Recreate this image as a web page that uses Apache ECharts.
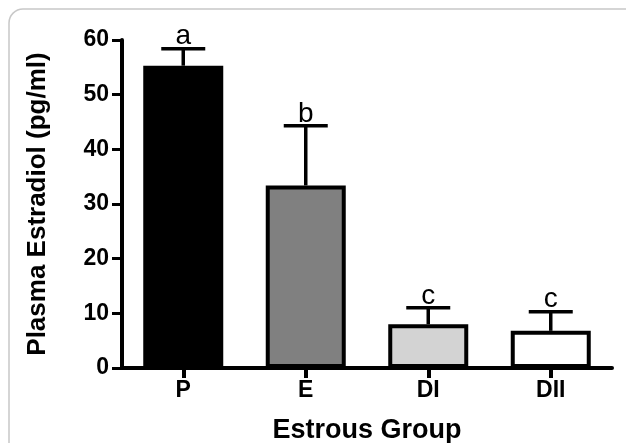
<!DOCTYPE html>
<html><head><meta charset="utf-8">
<script src="https://cdn.jsdelivr.net/npm/echarts@6/dist/echarts.min.js"></script>
<style>html,body{margin:0;padding:0;background:#fff;}#c{width:626px;height:443px;}</style>
</head><body><div id="c"></div>
<script>
var categories = ['P', 'E', 'DI', 'DII'];
var means = [55.3, 33.4, 8.0, 6.8];
var errors = [3.1, 10.9, 3.0, 3.5];
var letters = ['a', 'b', 'c', 'c'];
var yTicks = [0, 10, 20, 30, 40, 50, 60];
var fills = ['#000000', '#808080', '#d3d3d3', '#ffffff'];

var chart = echarts.init(document.getElementById('c'), null, {renderer: 'canvas'});
var font = '"Liberation Sans", Arial, sans-serif';
chart.setOption({
  animation: false,
  backgroundColor: '#ffffff',
  graphic: [{
    type: 'rect', z: -1,
    shape: {x: 9, y: 9, width: 660, height: 480, r: 14},
    style: {fill: '#ffffff', stroke: '#c8c8c8', lineWidth: 1.5}
  }],
  grid: {left: 122, right: 14, top: 40, bottom: 75, containLabel: false, outerBoundsMode: 'none'},
  xAxis: {
    type: 'category', data: categories,
    name: 'Estrous Group', nameLocation: 'middle', nameGap: 49,
    nameTextStyle: {fontFamily: font, fontWeight: 'bold', fontSize: 27, color: '#000'},
    axisLine: {lineStyle: {color: '#000', width: 4}},
    axisTick: {show: true, alignWithLabel: true, length: 10, lineStyle: {color: '#000', width: 4}},
    axisLabel: {fontFamily: font, fontWeight: 'bold', fontSize: 23, color: '#000', margin: 11}
  },
  yAxis: {
    type: 'value', min: yTicks[0], max: yTicks[yTicks.length - 1], interval: 10,
    name: 'Plasma Estradiol (pg/ml)', nameLocation: 'middle', nameGap: 71,
    nameTextStyle: {fontFamily: font, fontWeight: 'bold', fontSize: 26, color: '#000'},
    axisLine: {show: true, lineStyle: {color: '#000', width: 4}},
    axisTick: {show: true, length: 10, lineStyle: {color: '#000', width: 3}},
    axisLabel: {fontFamily: font, fontWeight: 'bold', fontSize: 23, color: '#000', margin: 13},
    splitLine: {show: false}
  },
  series: [{
    type: 'bar',
    barWidth: 80,
    data: means.map(function (v, i) {
      return {value: v, itemStyle: {color: fills[i], borderColor: '#000', borderWidth: 4}};
    }),
    z: 2
  }, {
    type: 'custom',
    z: 3,
    data: means.map(function (v, i) { return [i, v, v + errors[i]]; }),
    renderItem: function (params, api) {
      var i = api.value(0);
      var lo = api.coord([i, api.value(1)]);
      var hi = api.coord([i, api.value(2)]);
      var hw = 22;
      return {
        type: 'group',
        children: [
          {type: 'line', shape: {x1: lo[0], y1: lo[1], x2: hi[0], y2: hi[1]}, style: {stroke: '#000', lineWidth: 3.5}},
          {type: 'line', shape: {x1: hi[0] - hw, y1: hi[1], x2: hi[0] + hw, y2: hi[1]}, style: {stroke: '#000', lineWidth: 3.5}},
          {type: 'text', x: hi[0], y: hi[1] + 2, style: {text: letters[params.dataIndex], fontFamily: font, fontSize: 28, fill: '#000', align: 'center', verticalAlign: 'bottom'}}
        ]
      };
    }
  }]
});
</script></body></html>
